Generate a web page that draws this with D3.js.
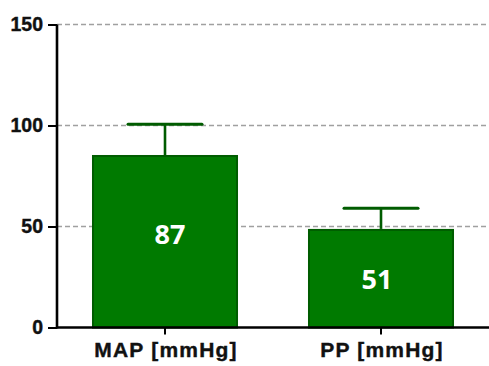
<!DOCTYPE html>
<html><head><meta charset="utf-8">
<script src="https://cdnjs.cloudflare.com/ajax/libs/d3/7.8.5/d3.min.js"></script>
<style>html,body{margin:0;padding:0;background:#fff;}svg{display:block;}</style>
</head><body>
<script>
const categories = ["MAP [mmHg]", "PP [mmHg]"];
const means = [85.4, 48.8];
const errorTops = [100.6, 59.0];
const barLabels = ["87", "51"];
const yTicks = [0, 50, 100, 150];
const gridValues = [50, 100, 150];

const W = 489, H = 366;
const svg = d3.select("body").append("svg").attr("width", W).attr("height", H);

const x = d3.scaleBand().domain(categories).range([57, 489]).paddingInner(0.324).paddingOuter(0.162);
const y = d3.scaleLinear().domain([0, 150]).range([327.5, 24.5]);

// gridlines
svg.append("g").selectAll("line").data(gridValues).join("line")
  .attr("x1", 57).attr("x2", W)
  .attr("y1", d => y(d)).attr("y2", d => y(d))
  .attr("stroke", "#a0a0a0").attr("stroke-width", 1.3).attr("stroke-dasharray", "5,3");

const green = "#007a00", dark = "#005c00";

// error bars
const eb = svg.append("g");
eb.selectAll("line.v").data(categories).join("line").attr("class","v")
  .attr("x1", d => x(d) + x.bandwidth()/2).attr("x2", d => x(d) + x.bandwidth()/2)
  .attr("y1", (d,i) => y(means[i])).attr("y2", (d,i) => y(errorTops[i]))
  .attr("stroke", dark).attr("stroke-width", 2.6);
eb.selectAll("line.c").data(categories).join("line").attr("class","c")
  .attr("x1", d => x(d) + x.bandwidth()/2 - 37).attr("x2", d => x(d) + x.bandwidth()/2 + 37)
  .attr("y1", (d,i) => y(errorTops[i])).attr("y2", (d,i) => y(errorTops[i]))
  .attr("stroke", dark).attr("stroke-width", 3).attr("stroke-linecap", "round");

// bars
svg.append("g").selectAll("rect").data(categories).join("rect")
  .attr("x", d => x(d) + 1).attr("width", x.bandwidth() - 2)
  .attr("y", (d,i) => y(means[i]) + 1).attr("height", (d,i) => y(0) - y(means[i]) - 1)
  .attr("fill", green).attr("stroke", dark).attr("stroke-width", 2);

// bar labels
const nudge = [[5, -8], [-4, 0]];
svg.append("g").selectAll("text").data(categories).join("text")
  .attr("x", (d,i) => x(d) + x.bandwidth()/2 + nudge[i][0])
  .attr("y", (d,i) => y(means[i]/2) + nudge[i][1])
  .attr("text-anchor", "middle").attr("dominant-baseline", "central")
  .attr("font-family", "'Open Sans', sans-serif").attr("font-weight", "bold")
  .attr("font-size", 27).attr("fill", "#fff")
  .text((d,i) => barLabels[i]);

// y axis
const yAxis = d3.axisLeft(y).tickValues(yTicks).tickSize(9).tickPadding(5).tickFormat(d3.format("d"));
const gy = svg.append("g").attr("transform", "translate(57,0)").call(yAxis);
gy.select(".domain").attr("stroke", "#000").attr("stroke-width", 2.6).attr("d", `M0,${y(150)}V${y(0)+1}`);
gy.selectAll(".tick line").attr("stroke", "#000").attr("stroke-width", 2);
gy.selectAll(".tick text").attr("font-family", "'Liberation Sans', Arial, sans-serif")
  .attr("font-weight", "bold").attr("font-size", 19.5).attr("fill", "#111")
  .attr("stroke", "#111").attr("stroke-width", 0.4);

// x axis
const xAxis = d3.axisBottom(x).tickSize(7).tickPadding(8);
const gx = svg.append("g").attr("transform", `translate(0,${y(0)})`).call(xAxis);
gx.select(".domain").attr("stroke", "#000").attr("stroke-width", 2.4).attr("d", `M56,0H${W}`);
gx.selectAll(".tick line").attr("stroke", "#000").attr("stroke-width", 2);
gx.selectAll(".tick text").attr("font-family", "'Liberation Sans', Arial, sans-serif")
  .attr("font-weight", "bold").attr("font-size", 21).attr("fill", "#111")
  .attr("stroke", "#111").attr("stroke-width", 0.4)
  .attr("letter-spacing", "1.2px").attr("dx", "1px");
</script>
</body></html>
